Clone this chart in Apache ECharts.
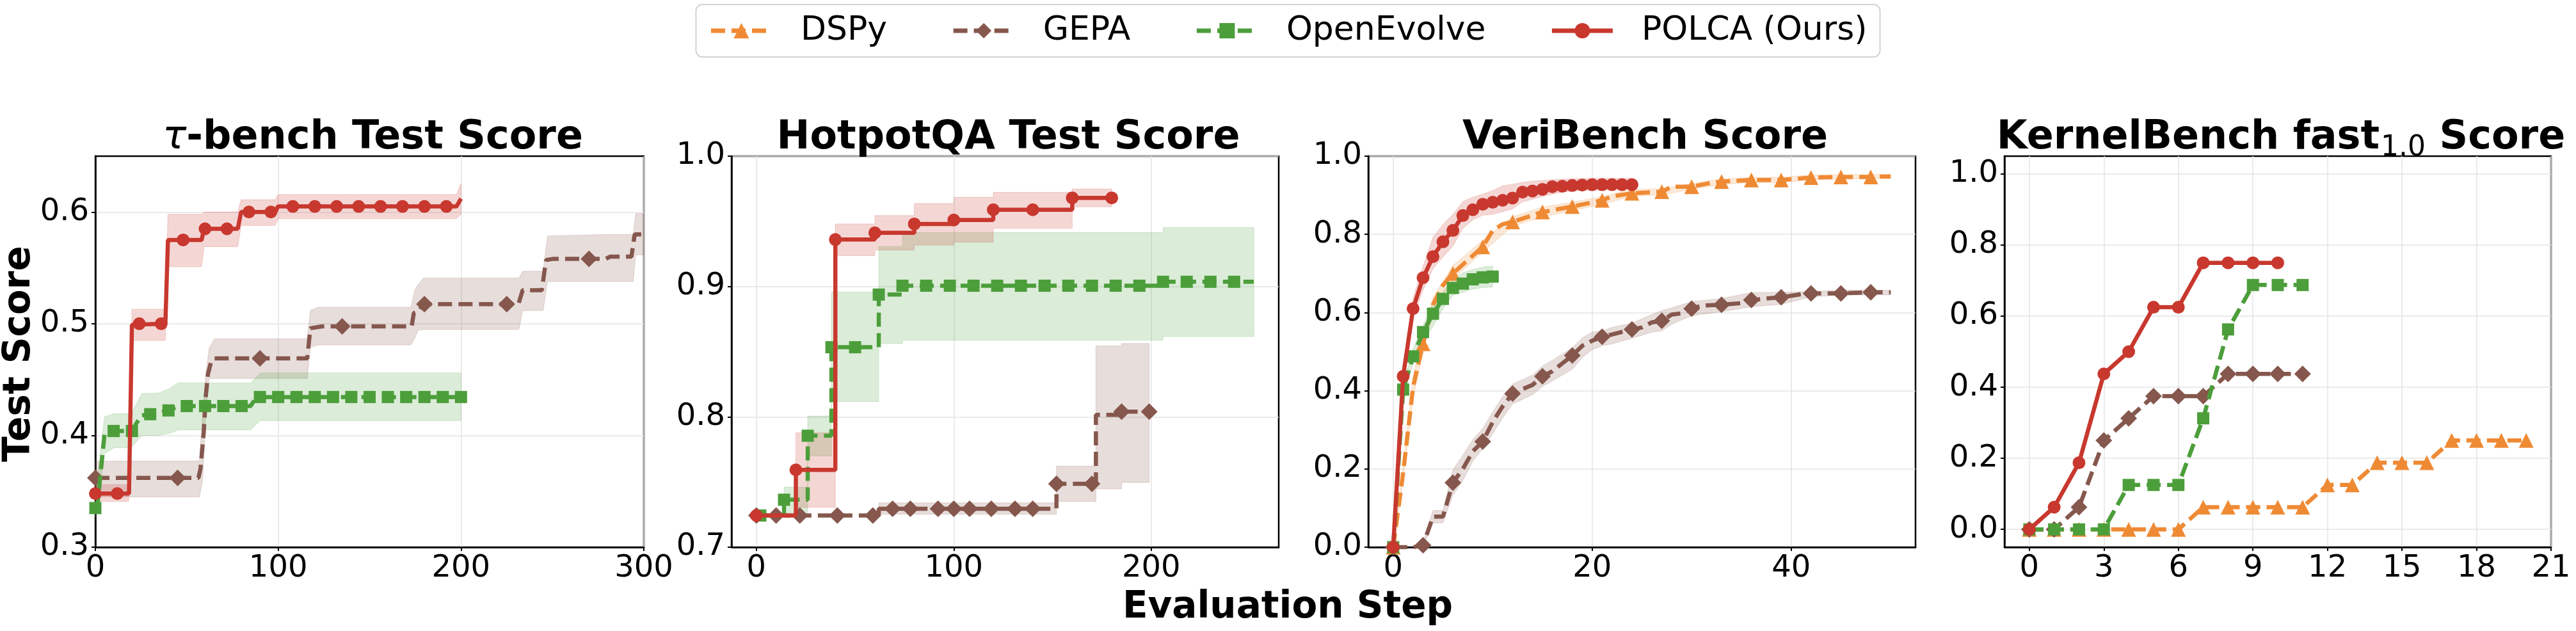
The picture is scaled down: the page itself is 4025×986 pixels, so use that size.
<!DOCTYPE html>
<html>
<head>
<meta charset="utf-8">
<script src="https://cdn.jsdelivr.net/npm/echarts@6/dist/echarts.min.js"></script>
<style>
  html, body { margin: 0; background: #fff; }
  #chart { width: 4025px; height: 986px; }
</style>
</head>
<body>
<div id="chart"></div>
<script>
const FONT = 'DejaVu Sans';
const names = ['DSPy', 'GEPA', 'OpenEvolve', 'POLCA (Ours)'];

// ---- tau-bench ----
const tauXTicks = [0, 100, 200, 300];
const tauYTicks = [0.3, 0.4, 0.5, 0.6];
const tauGepaLine = [[0,0.362],[56.4,0.362],[57.5,0.37],[59.3,0.403],[60.4,0.435],[61.6,0.455],[63.4,0.4666],[65.1,0.469],[115.9,0.469],[117.6,0.496],[124,0.4976],[173,0.4976],[174.2,0.5096],[176.5,0.5107],[179.4,0.5175],[231.4,0.5175],[233.7,0.53],[244.2,0.53],[246.5,0.557],[250,0.558],[279.2,0.558],[281.5,0.56],[293.2,0.56],[295,0.58],[300,0.58]];
const tauGepaMarks = [[0,0.362],[45,0.362],[90,0.469],[135,0.4976],[180,0.5175],[225,0.5175],[270,0.558]];
const tauGepaBand = [[0,0.345,0.377],[56.9,0.345,0.377],[58.7,0.36,0.42],[60.4,0.42,0.455],[62.2,0.451,0.478],[65.1,0.451,0.4865],[115.9,0.451,0.4865],[117.6,0.479,0.512],[122,0.481,0.5148],[172.6,0.481,0.5148],[174.7,0.487,0.53],[176.5,0.494,0.535],[179.4,0.4949,0.5409],[231.7,0.4949,0.5409],[233.7,0.5118,0.547],[244.9,0.5118,0.547],[247.3,0.5378,0.5786],[280.9,0.5378,0.58],[294.2,0.5378,0.58],[295.5,0.5617,0.5986],[300,0.5617,0.5986]];
const tauOpenLine = [[0,0.335],[1,0.335],[5,0.401],[10.3,0.404],[20.2,0.404],[22.5,0.411],[25.4,0.418],[30,0.419],[33.6,0.419],[39.4,0.4224],[45.3,0.4258],[50,0.4263],[84.9,0.4263],[87.9,0.4337],[90,0.4344],[200,0.4344]];
const tauOpenMarks = [[0,0.335],[10,0.404],[20,0.404],[30,0.419],[40,0.4224],[50,0.4263],[60,0.4263],[70,0.4263],[80,0.4263],[90,0.4344],[100,0.4344],[110,0.4344],[120,0.4344],[130,0.4344],[140,0.4344],[150,0.4344],[160,0.4344],[170,0.4344],[180,0.4344],[190,0.4344],[200,0.4344]];
const tauOpenBand = [[0,0.326,0.345],[5,0.384,0.4167],[10.3,0.389,0.4194],[19.6,0.389,0.4194],[25.4,0.40,0.4375],[34.8,0.40,0.438],[40.6,0.402,0.442],[45.3,0.405,0.447],[84.9,0.405,0.447],[90.2,0.4133,0.456],[200,0.4133,0.456]];
const tauPolcaLine = [[0,0.348],[18.4,0.348],[20,0.499],[38.3,0.5],[39.7,0.575],[58.1,0.575],[59.5,0.585],[77.9,0.585],[79.7,0.6],[98.4,0.6],[99.9,0.605],[197.5,0.605],[200,0.612]];
const tauPolcaMarks = [[0,0.348],[12,0.348],[24,0.5],[36,0.5],[48,0.575],[60,0.585],[72,0.585],[84,0.6],[96,0.6],[108,0.605],[120,0.605],[132,0.605],[144,0.605],[156,0.605],[168,0.605],[180,0.605],[192,0.605]];
const tauPolcaBand = [[0,0.341,0.356],[18.2,0.341,0.356],[20,0.485,0.513],[38.3,0.485,0.513],[39.7,0.551,0.598],[58.1,0.551,0.598],[59.5,0.569,0.6],[77.9,0.569,0.6],[79.7,0.588,0.611],[98.4,0.588,0.611],[99.9,0.594,0.6156],[197.5,0.594,0.6156],[200,0.598,0.6256]];

// ---- HotpotQA ----
const hotXTicks = [0, 100, 200];
const hotYTicks = [0.7, 0.8, 0.9, 1.0];
const hotGepaLine = [[0,0.7243],[10,0.7243],[22,0.7243],[41,0.7243],[59,0.7243],[62,0.7295],[69,0.7295],[78,0.7295],[92,0.7295],[100,0.7295],[108,0.7295],[119,0.7295],[131,0.7295],[140,0.7295],[152,0.7486],[170,0.7486],[172,0.8015],[185,0.804],[199,0.804]];
const hotGepaMarks = [[0,0.7243],[10,0.7243],[22,0.7243],[41,0.7243],[59,0.7243],[69,0.7295],[78,0.7295],[92,0.7295],[100,0.7295],[108,0.7295],[119,0.7295],[131,0.7295],[140,0.7295],[152,0.7486],[170,0.7486],[185,0.804],[199,0.804]];
const hotGepaBand = [[62,0.7253,0.734],[152,0.7253,0.734],[152,0.735,0.7622],[172,0.735,0.7622],[172,0.7447,0.8544],[185,0.7447,0.8544],[185,0.7496,0.8563],[199,0.7496,0.8563]];
const hotOpenLine = [[2,0.7243],[14,0.7364],[26,0.7855],[38,0.8534],[50,0.8534],[62,0.8938],[74,0.9006],[86,0.9006],[98,0.9006],[110,0.9006],[122,0.9006],[134,0.9006],[146,0.9006],[158,0.9006],[170,0.9006],[182,0.9006],[194,0.9006],[206,0.9036],[218,0.9036],[230,0.9036],[242,0.9036],[252,0.9036]];
const hotOpenMarks = [[2,0.7243],[14,0.7364],[26,0.7855],[38,0.8534],[50,0.8534],[62,0.8938],[74,0.9006],[86,0.9006],[98,0.9006],[110,0.9006],[122,0.9006],[134,0.9006],[146,0.9006],[158,0.9006],[170,0.9006],[182,0.9006],[194,0.9006],[206,0.9036],[218,0.9036],[230,0.9036],[242,0.9036]];
const hotOpenBand = [[14,0.7263,0.746],[26,0.7263,0.746],[26,0.77,0.8006],[38,0.77,0.8006],[38,0.8117,0.8958],[62,0.8117,0.8958],[62,0.8563,0.9307],[74,0.8563,0.9307],[74,0.8588,0.9414],[206,0.8588,0.9414],[206,0.8617,0.9453],[252,0.8617,0.9453]];
const hotPolcaLine = [[0,0.7243],[20,0.7593],[40,0.936],[60,0.9412],[80,0.948],[100,0.951],[120,0.9589],[140,0.9589],[160,0.968],[180,0.968]];
const hotPolcaBand = [[20,0.7306,0.7878],[40,0.7306,0.7878],[40,0.9237,0.948],[60,0.9237,0.948],[60,0.928,0.9544],[80,0.928,0.9544],[80,0.9317,0.9637],[100,0.9317,0.9637],[100,0.934,0.9684],[120,0.934,0.9684],[120,0.9447,0.9722],[160,0.9447,0.9722],[160,0.9611,0.9748],[180,0.9611,0.9748]];

// ---- VeriBench ----
const veriXTicks = [0, 20, 40];
const veriYTicks = [0, 0.2, 0.4, 0.6, 0.8, 1.0];
const veriDspyLine = [[0,0],[1,0.19],[2,0.41],[3,0.52],[4,0.62],[5,0.67],[6,0.70],[9,0.768],[10,0.81],[11,0.826],[12,0.832],[15,0.857],[18,0.871],[21,0.887],[22,0.897],[24,0.905],[27,0.909],[28,0.922],[30,0.922],[32,0.932],[33,0.935],[36,0.939],[39,0.939],[42,0.945],[45,0.947],[48,0.947],[50,0.948]];
const veriDspyMarks = [[0,0],[3,0.52],[6,0.70],[9,0.768],[12,0.832],[15,0.857],[18,0.871],[21,0.887],[24,0.905],[27,0.909],[30,0.922],[33,0.935],[36,0.939],[39,0.939],[42,0.945],[45,0.947],[48,0.947]];
const veriDspyBand = [[0,0,0],[1,0.17,0.21],[2,0.38,0.44],[3,0.50,0.545],[4,0.60,0.64],[6,0.685,0.72],[9,0.755,0.785],[12,0.82,0.845],[15,0.845,0.87],[18,0.86,0.882],[21,0.877,0.897],[24,0.897,0.915],[27,0.901,0.917],[30,0.915,0.93],[33,0.928,0.942],[36,0.932,0.946],[39,0.932,0.946],[42,0.94,0.952],[48,0.942,0.953],[50,0.943,0.954]];
const veriGepaLine = [[0,0],[2,0],[3,0.005],[4,0.078],[5,0.078],[6,0.165],[7,0.20],[8,0.245],[9,0.27],[10,0.32],[11,0.36],[12,0.393],[14,0.415],[15,0.437],[16,0.45],[18,0.49],[19,0.515],[20,0.528],[21,0.538],[22,0.544],[24,0.557],[25,0.562],[26,0.575],[27,0.579],[28,0.595],[29,0.598],[30,0.61],[31,0.618],[33,0.62],[35,0.624],[36,0.632],[38,0.637],[39,0.639],[41,0.647],[42,0.649],[45,0.649],[48,0.652],[50,0.652]];
const veriGepaMarks = [[0,0],[3,0.005],[6,0.165],[9,0.27],[12,0.393],[15,0.437],[18,0.49],[21,0.538],[24,0.557],[27,0.579],[30,0.61],[33,0.62],[36,0.632],[39,0.639],[42,0.649],[45,0.649],[48,0.652]];
const veriGepaBand = [[3,0,0.01],[4,0.062,0.094],[5,0.062,0.094],[6,0.133,0.198],[7,0.17,0.235],[8,0.22,0.275],[9,0.252,0.304],[10,0.29,0.345],[11,0.33,0.385],[12,0.366,0.417],[14,0.39,0.44],[15,0.411,0.463],[16,0.425,0.478],[18,0.455,0.51],[19,0.485,0.535],[20,0.505,0.55],[21,0.515,0.553],[22,0.52,0.562],[24,0.534,0.573],[26,0.55,0.595],[27,0.553,0.605],[28,0.57,0.612],[30,0.592,0.628],[33,0.602,0.636],[36,0.615,0.651],[39,0.621,0.652],[42,0.64,0.654],[45,0.645,0.657],[50,0.645,0.657]];
const veriOpenLine = [[0,0],[1,0.403],[2,0.488],[3,0.55],[4,0.597],[5,0.635],[6,0.663],[7,0.674],[8,0.685],[9,0.69],[10,0.692]];
const veriOpenBand = [[0,0,0],[1,0.39,0.415],[2,0.469,0.508],[3,0.524,0.566],[4,0.565,0.625],[5,0.61,0.654],[6,0.644,0.683],[7,0.652,0.702],[8,0.66,0.71],[9,0.664,0.716],[10,0.665,0.719]];
const veriPolcaLine = [[0,0],[1,0.437],[2,0.61],[3,0.689],[4,0.743],[5,0.781],[6,0.81],[7,0.848],[8,0.863],[9,0.877],[10,0.882],[11,0.887],[12,0.893],[13,0.908],[14,0.911],[15,0.915],[16,0.922],[17,0.923],[18,0.925],[19,0.926],[20,0.927],[21,0.927],[22,0.927],[23,0.927],[24,0.927]];
const veriPolcaBand = [[0,0,0],[1,0.42,0.455],[2,0.592,0.638],[3,0.657,0.718],[4,0.712,0.793],[5,0.742,0.825],[6,0.77,0.851],[7,0.815,0.884],[8,0.837,0.895],[9,0.849,0.903],[10,0.851,0.912],[11,0.858,0.924],[12,0.865,0.928],[13,0.883,0.933],[14,0.89,0.936],[15,0.897,0.938],[16,0.903,0.94],[17,0.908,0.941],[18,0.91,0.942],[19,0.913,0.943],[20,0.913,0.943],[22,0.915,0.943],[24,0.916,0.943]];

// ---- KernelBench ----
const kernXTicks = [0, 3, 6, 9, 12, 15, 18, 21];
const kernYTicks = [0, 0.2, 0.4, 0.6, 0.8, 1.0];
const kernDspy = [[0,0],[1,0],[2,0],[3,0],[4,0],[5,0],[6,0],[7,0.0625],[8,0.0625],[9,0.0625],[10,0.0625],[11,0.0625],[12,0.125],[13,0.125],[14,0.1875],[15,0.1875],[16,0.1875],[17,0.25],[18,0.25],[19,0.25],[20,0.25]];
const kernGepa = [[0,0],[1,0],[2,0.0625],[3,0.25],[4,0.3125],[5,0.375],[6,0.375],[7,0.375],[8,0.4375],[9,0.4375],[10,0.4375],[11,0.4375]];
const kernOpen = [[0,0],[1,0],[2,0],[3,0],[4,0.125],[5,0.125],[6,0.125],[7,0.3125],[8,0.5625],[9,0.6875],[10,0.6875],[11,0.6875]];
const kernPolca = [[0,0],[1,0.0625],[2,0.1875],[3,0.4375],[4,0.5],[5,0.625],[6,0.625],[7,0.75],[8,0.75],[9,0.75],[10,0.75]];

const colors = { 'DSPy': '#ef8a34', 'GEPA': '#85574d', 'OpenEvolve': '#4c9e3b', 'POLCA (Ours)': '#c8382e' };
const symbols = { 'DSPy': 'triangle', 'GEPA': 'diamond', 'OpenEvolve': 'rect', 'POLCA (Ours)': 'circle' };
const symSize = { 'DSPy': 23, 'GEPA': 26, 'OpenEvolve': 19, 'POLCA (Ours)': 20 };
const zOrder = { 'DSPy': 3, 'GEPA': 4, 'OpenEvolve': 5, 'POLCA (Ours)': 6 };

const panels = [
  { title: '{t|τ}{b|-bench Test Score}', left: 149, width: 857, xMin: 0, xMax: 300, xTicks: tauXTicks, yMin: 0.3, yMax: 0.65, yTicks: tauYTicks, step: false,
    series: [
      { name: 'GEPA', line: tauGepaLine, marks: tauGepaMarks, band: tauGepaBand },
      { name: 'OpenEvolve', line: tauOpenLine, marks: tauOpenMarks, band: tauOpenBand },
      { name: 'POLCA (Ours)', line: tauPolcaLine, marks: tauPolcaMarks, band: tauPolcaBand }
    ] },
  { title: '{b|HotpotQA Test Score}', left: 1143, width: 855, xMin: -12.6, xMax: 264.6, xTicks: hotXTicks, yMin: 0.7, yMax: 1.0, yTicks: hotYTicks, step: 'end',
    series: [
      { name: 'GEPA', line: hotGepaLine, marks: hotGepaMarks, band: hotGepaBand },
      { name: 'OpenEvolve', line: hotOpenLine, marks: hotOpenMarks, band: hotOpenBand },
      { name: 'POLCA (Ours)', line: hotPolcaLine, band: hotPolcaBand }
    ] },
  { title: '{b|VeriBench Score}', left: 2138, width: 855, xMin: -2.5, xMax: 52.5, xTicks: veriXTicks, yMin: 0, yMax: 1.0, yTicks: veriYTicks, step: false,
    series: [
      { name: 'DSPy', line: veriDspyLine, marks: veriDspyMarks, band: veriDspyBand },
      { name: 'GEPA', line: veriGepaLine, marks: veriGepaMarks, band: veriGepaBand },
      { name: 'OpenEvolve', line: veriOpenLine, band: veriOpenBand },
      { name: 'POLCA (Ours)', line: veriPolcaLine, band: veriPolcaBand }
    ] },
  { title: '{b|KernelBench fast}{s|1.0}{b| Score}', left: 3132, width: 854, xMin: -1, xMax: 21, xTicks: kernXTicks, yMin: -0.05, yMax: 1.05, yTicks: kernYTicks, step: false,
    series: [
      { name: 'DSPy', line: kernDspy },
      { name: 'GEPA', line: kernGepa },
      { name: 'OpenEvolve', line: kernOpen },
      { name: 'POLCA (Ours)', line: kernPolca }
    ] }
];

function rgba(hex, a) {
  const n = parseInt(hex.slice(1), 16);
  return 'rgba(' + (n >> 16) + ',' + ((n >> 8) & 255) + ',' + (n & 255) + ',' + a + ')';
}
// gridlines sitting on the frame are left to the frame
function inner(ticks, lo, hi) {
  return ticks.filter(v => v > lo + 1e-9 && v < hi - 1e-9);
}

const grids = [], xAxes = [], yAxes = [], titles = [], series = [];
const labelStyle = { fontSize: 48, fontFamily: FONT, color: '#000' };
const gridLine = { color: '#e4e4e4', width: 1.5 };

panels.forEach((p, i) => {
  grids.push({ left: p.left, top: 244, width: p.width, height: 611, show: true, borderColor: '#000', borderWidth: 2.5 });
  xAxes.push({
    type: 'value', gridIndex: i, min: p.xMin, max: p.xMax,
    axisLine: { show: true, onZero: false, lineStyle: { color: '#000', width: 2.5 } },
    axisTick: { show: true, customValues: p.xTicks, length: 6, lineStyle: { color: '#000', width: 2 } },
    axisLabel: Object.assign({ customValues: p.xTicks, margin: 10 }, labelStyle),
    splitLine: { show: true, customValues: inner(p.xTicks, p.xMin, p.xMax), lineStyle: gridLine }
  });
  yAxes.push({
    type: 'value', gridIndex: i, min: p.yMin, max: p.yMax,
    axisLine: { show: true, onZero: false, lineStyle: { color: '#000', width: 2.5 } },
    axisTick: { show: true, customValues: p.yTicks, length: 6, lineStyle: { color: '#000', width: 2 } },
    axisLabel: Object.assign({ customValues: p.yTicks, margin: 10, formatter: v => v.toFixed(1) }, labelStyle),
    splitLine: { show: true, customValues: inner(p.yTicks, p.yMin, p.yMax), lineStyle: gridLine }
  });
  titles.push({
    text: p.title, left: p.left + p.width / 2, top: 172, textAlign: 'center',
    textStyle: {
      fontWeight: 'normal',
      rich: {
        b: { fontFamily: FONT, fontWeight: 'bold', fontSize: 62, lineHeight: 78, color: '#000' },
        t: { fontFamily: FONT, fontStyle: 'italic', fontWeight: 'normal', fontSize: 62, lineHeight: 78, color: '#000' },
        s: { fontFamily: FONT, fontWeight: 'normal', fontSize: 44, lineHeight: 44, padding: [32, 0, 0, 2], color: '#000' }
      }
    }
  });

  p.series.forEach(s => {
    const c = colors[s.name];
    if (s.band) {
      const band = s.band;
      series.push({
        type: 'custom', name: s.name + ' std', xAxisIndex: i, yAxisIndex: i,
        data: band, encode: { x: 0, y: [1, 2] }, z: 1, silent: true, clip: true,
        renderItem: (params, api) => {
          if (params.dataIndex !== 0) return null;
          const upper = band.map(d => api.coord([d[0], d[2]]));
          const lower = band.map(d => api.coord([d[0], d[1]])).reverse();
          return { type: 'polygon', shape: { points: upper.concat(lower) },
                   style: { fill: rgba(c, 0.2), stroke: rgba(c, 0.2), lineWidth: 1 } };
        }
      });
    }
    series.push({
      type: 'line', name: s.name, xAxisIndex: i, yAxisIndex: i, data: s.line,
      step: p.step, symbol: symbols[s.name], symbolSize: symSize[s.name], showSymbol: false,
      lineStyle: { color: c, width: 6.5, type: s.name === 'POLCA (Ours)' ? 'solid' : [22, 10] },
      itemStyle: { color: c }, z: zOrder[s.name], silent: true, clip: true
    });
    series.push({
      type: 'scatter', name: s.name, xAxisIndex: i, yAxisIndex: i, data: s.marks || s.line,
      symbol: symbols[s.name], symbolSize: symSize[s.name],
      itemStyle: { color: c, opacity: 1 }, z: zOrder[s.name], silent: true, clip: true
    });
  });
});

const chart = echarts.init(document.getElementById('chart'));
chart.setOption({
  animation: false,
  backgroundColor: '#fff',
  title: titles,
  legend: {
    data: names, top: 7, left: 'center',
    itemWidth: 95, itemHeight: 30, itemGap: 100,
    lineStyle: { width: 7 },
    textStyle: { fontSize: 52, fontFamily: FONT, color: '#000', padding: [0, 0, 0, 40] },
    borderColor: '#d4d4d4', borderWidth: 2, borderRadius: 10, padding: [15, 20, 15, 20]
  },
  grid: grids,
  xAxis: xAxes,
  yAxis: yAxes,
  graphic: [
    { type: 'text', x: 31, y: 553, rotation: Math.PI / 2,
      style: { text: 'Test Score', font: 'bold 58px "DejaVu Sans"', fill: '#000', textAlign: 'center', textVerticalAlign: 'middle', align: 'center', verticalAlign: 'middle' } },
    { type: 'text', x: 2012, y: 950,
      style: { text: 'Evaluation Step', font: 'bold 58px "DejaVu Sans"', fill: '#000', textAlign: 'center', textVerticalAlign: 'middle', align: 'center', verticalAlign: 'middle' } }
  ],
  series: series
});
</script>
</body>
</html>
